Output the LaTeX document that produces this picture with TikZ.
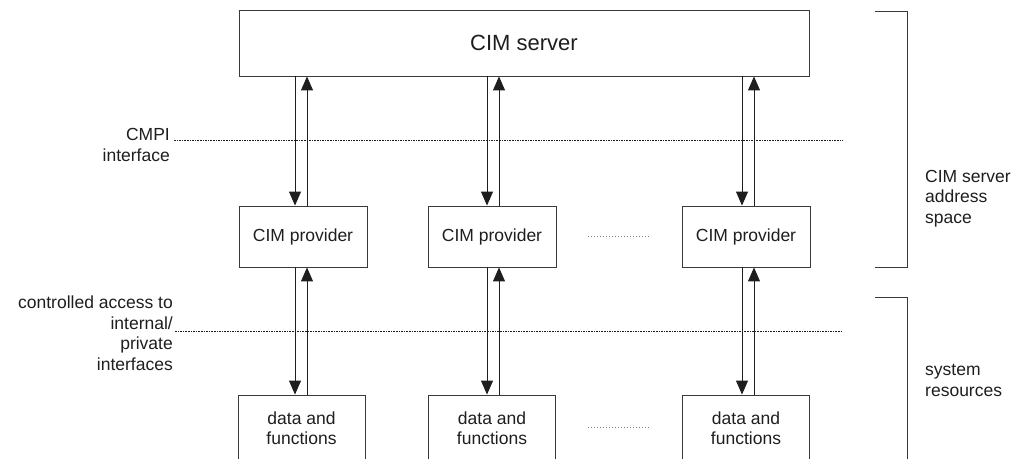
\documentclass[tikz,border=0pt]{standalone}
\usepackage{fontspec}
\setmainfont{Liberation Sans}
\usetikzlibrary{arrows.meta}
\definecolor{ink}{HTML}{1E1E1E}
\definecolor{edge}{HTML}{3A3A3A}
\begin{document}
\begin{tikzpicture}[x=1pt,y=-1pt,
  box/.style={draw=edge,line width=0.9pt,inner sep=0pt,text=ink},
  provbox/.style={box,minimum width=128pt,minimum height=61pt,font=\fontsize{17.5}{20.5}\selectfont},
  databox/.style={box,minimum width=127pt,minimum height=66pt,align=center,font=\fontsize{17.5}{20.5}\selectfont},
  lbl/.style={inner sep=0pt,text=ink,font=\fontsize{17.5}{20.5}\selectfont},
  flow/.style={draw=ink,line width=1pt,-{Triangle[length=14pt,width=12pt]}},
  sep/.style={draw=ink,line width=0.6pt,dash pattern=on 1.6pt off 1pt},
  gap/.style={draw=gray,line width=0.8pt,dash pattern=on 1pt off 2pt},
  brace/.style={draw=edge,line width=0.9pt}]
\useasboundingbox (0,0) rectangle (1024,458);

% server
\node[box,minimum width=570pt,minimum height=66pt,font=\fontsize{22}{26}\selectfont] (srv) at (524,43) {CIM server};

% providers
\node[provbox] (p1) at (303,236.5) {CIM provider};
\node[provbox] (p2) at (492,236.5) {CIM provider};
\node[provbox] (p3) at (746,236.5) {CIM provider};

% data and functions (open at bottom, cut by page edge)
\node[databox] (d1) at (301.5,428) {data and\\functions};
\node[databox] (d2) at (492,428) {data and\\functions};
\node[databox] (d3) at (746,428) {data and\\functions};

% gaps between columns
\coordinate (g1a) at (588,236);
\coordinate (g1b) at (651,236);
\draw[gap] (g1a) -- (g1b);
\coordinate (g2a) at (588,427);
\coordinate (g2b) at (651,427);
\draw[gap] (g2a) -- (g2b);

% arrows server <-> providers
\foreach \p/\dx/\ux in {p1/-8/4, p2/-5/7, p3/-4/8}{
  \draw[flow] ([xshift=\dx pt]\p.north |- srv.south) -- ([xshift=\dx pt]\p.north);
  \draw[flow] ([xshift=\ux pt]\p.north) -- ([xshift=\ux pt]\p.north |- srv.south);
}
% arrows providers <-> data
\foreach \p/\d/\dx/\ux in {p1/d1/-8/4, p2/d2/-5/7, p3/d3/-4/8}{
  \draw[flow] ([xshift=\dx pt]\p.south) -- ([xshift=\dx pt]\p.south |- \d.north);
  \draw[flow] ([xshift=\ux pt]\p.south |- \d.north) -- ([xshift=\ux pt]\p.south);
}

% interface separators
\node[lbl,align=right,anchor=base east] (cmpi) at (170,161) {CMPI\\interface};
\coordinate (s1a) at (174,140);
\coordinate (s1b) at (843,140);
\draw[sep] (s1a) -- (s1b);

\node[lbl,align=right,anchor=base east] (ctl) at (173,370) {controlled access to\\internal/\\private\\interfaces};
\coordinate (s2a) at (175,331);
\coordinate (s2b) at (843,331);
\draw[sep] (s2a) -- (s2b);

% brackets
\coordinate (b1t) at (875,11);
\coordinate (b1b) at (875,267);
\draw[brace] (b1t) -- (907,11) -- (907,267) -- (b1b);
\node[lbl,align=left,anchor=base west] (addr) at (925,223) {CIM server\\address\\space};

\coordinate (b2t) at (875,297);
\coordinate (b2b) at (907,462);
\draw[brace] (b2t) -- (907,297) -- (b2b);
\node[lbl,align=left,anchor=base west] (sys) at (925,396) {system\\resources};
\end{tikzpicture}
\end{document}
